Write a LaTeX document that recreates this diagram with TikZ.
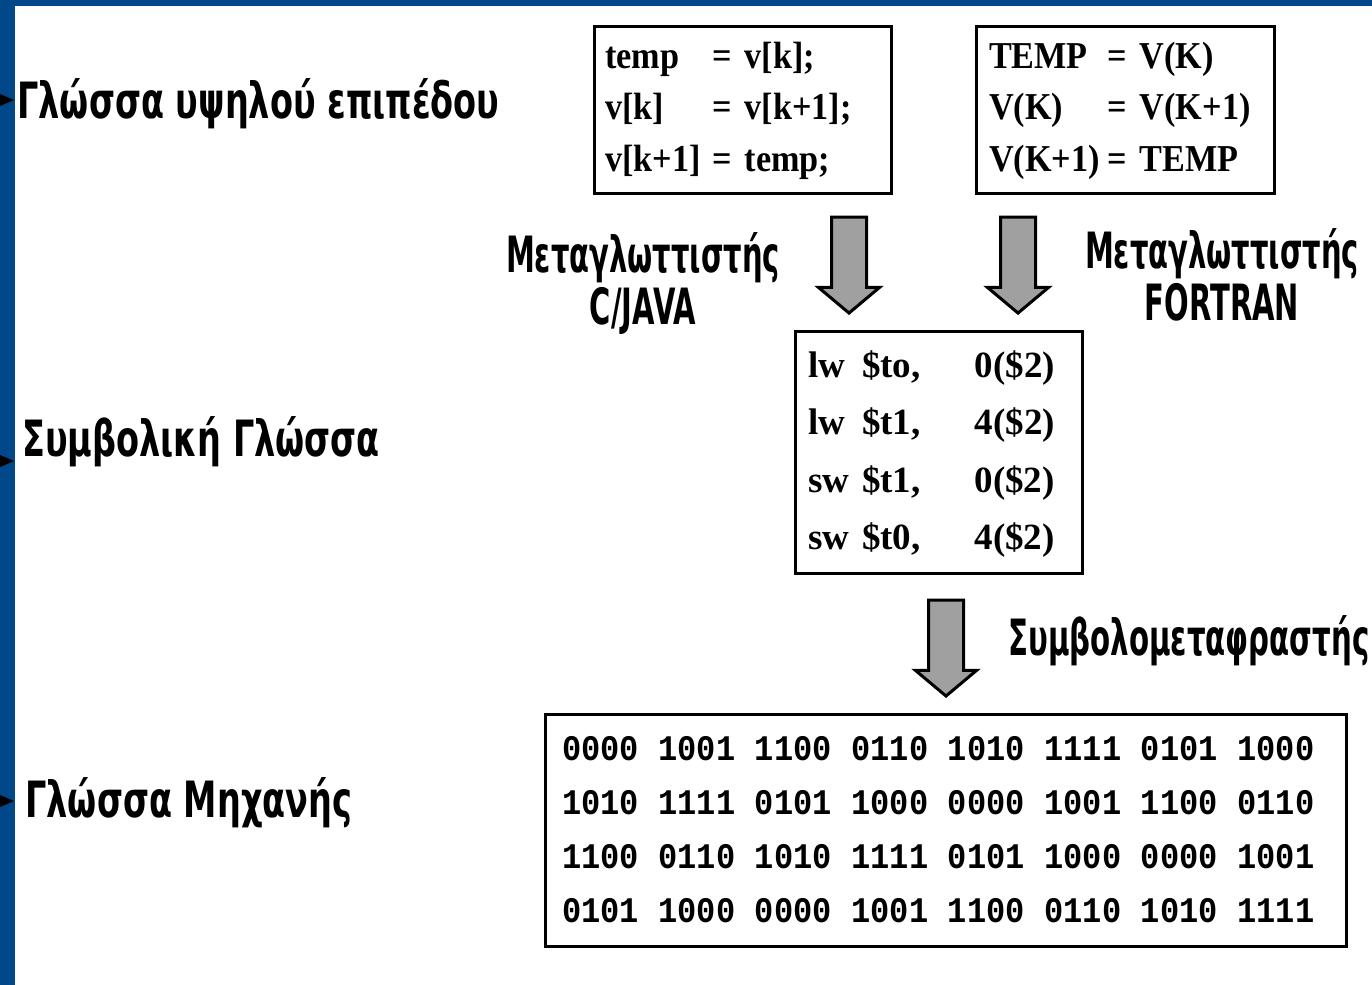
\documentclass[tikz,border=0pt]{standalone}
\usepackage{fontspec}
\setmainfont{Liberation Serif}
\newfontfamily\levelfont[FakeStretch=0.67]{DejaVu Sans}
\newfontfamily\compfont[FakeStretch=0.58]{DejaVu Sans}
\newfontfamily\asmbfont[FakeStretch=0.585]{DejaVu Sans}
\newfontfamily\srcfont[FakeStretch=0.9]{Liberation Serif}
\newfontfamily\codefont{Liberation Serif}
\newfontfamily\binfont[FakeStretch=0.89]{Liberation Mono}
\usetikzlibrary{shapes.arrows}
\definecolor{frameblue}{RGB}{0,72,138}
\definecolor{arrowgray}{RGB}{160,160,160}
\tikzset{
  codebox/.style={rectangle,draw=black,line width=1.5pt,fill=white,align=left,inner ysep=0pt},
  levellabel/.style={anchor=base west,inner sep=0pt,font=\levelfont\bfseries\fontsize{25}{30}\selectfont},
  complabel/.style={align=center,inner sep=0pt,font=\compfont\bfseries\fontsize{25}{26}\selectfont},
  downarrow/.style={single arrow,draw=black,line width=1.5pt,fill=arrowgray,rotate=-90,anchor=tip,
    inner xsep=0pt,inner ysep=8pt,minimum height=48pt,single arrow head extend=6.5pt,single arrow tip angle=100}
}

\begin{document}
\begin{tikzpicture}[x=0.5pt,y=0.5pt]
  \useasboundingbox (0,0) rectangle (1372,-985);
  \fill[white] (0,0) rectangle (1372,-985);
  \fill[frameblue] (0,0) rectangle (15,-985);
  \fill[frameblue] (0,0) rectangle (1372,-6);
  % level bullets
  \fill[black] (0,-94) -- (14,-100) -- (0,-106) -- cycle;
  \fill[black] (0,-455) -- (14,-461) -- (0,-467) -- cycle;
  \fill[black] (0,-795) -- (14,-801) -- (0,-807) -- cycle;

  \node[levellabel] (high) at (17,-118) {Γλώσσα υψηλού επιπέδου};
  \node[levellabel] (sym) at (22,-456) {Συμβολική Γλώσσα};
  \node[levellabel] (mach) at (25,-817) {Γλώσσα Μηχανής};

  % source programs
  \node[codebox,text width=137.5pt,inner xsep=5.5pt,minimum height=83.5pt,font=\srcfont\bfseries\fontsize{19}{25.75}\selectfont] (cjava) at (742.5,-109.5)
    {\begin{tabular}{@{}l@{\hspace{6pt}}l@{}}
      temp & = v[k];\\
      v[k] & = v[k+1];\\
      v[k+1] & = temp;
    \end{tabular}};
  \node[codebox,text width=136pt,inner xsep=6.5pt,minimum height=83.5pt,font=\srcfont\bfseries\fontsize{19}{25.75}\selectfont] (fortran) at (1125,-109.5)
    {\begin{tabular}{@{}l@{\hspace{4pt}}l@{}}
      TEMP & = V(K)\\
      V(K) & = V(K+1)\\
      V(K+1) & = TEMP
    \end{tabular}};

  % compilers
  \node[downarrow] (ca) at (849,-315) {};
  \node[downarrow] (fa) at (1018,-315) {};
  \node[complabel] (cc) at (643,-284) {Μεταγλωττιστής\\C/JAVA};
  \node[complabel] (fc) at (1222,-275) {Μεταγλωττιστής\\FORTRAN};

  % assembly
  \node[codebox,text width=130.5pt,inner xsep=6.5pt,minimum height=121pt,font=\codefont\bfseries\fontsize{18.5}{28.75}\selectfont] (asm) at (938.5,-452)
    {\begin{tabular}{@{}l@{\hspace{6.5pt}}l@{\hspace{27pt}}l@{}}
      lw & \$to, & 0(\$2)\\
      lw & \$t1, & 4(\$2)\\
      sw & \$t1, & 0(\$2)\\
      sw & \$t0, & 4(\$2)
    \end{tabular}};

  \node[downarrow] (aa) at (946,-698) {};
  \node[anchor=base west,inner sep=0pt,font=\asmbfont\bfseries\fontsize{25}{30}\selectfont] (asmb) at (1008,-655) {Συμβολομεταφραστής};

  % machine code
  \node[codebox,text width=383.5pt,inner xsep=8.5pt,minimum height=116pt,font=\binfont\bfseries\fontsize{18}{27}\selectfont] (bin) at (945.5,-830)
    {\spaceskip=9.8pt\relax
     0000 1001 1100 0110 1010 1111 0101 1000\\
     1010 1111 0101 1000 0000 1001 1100 0110\\
     1100 0110 1010 1111 0101 1000 0000 1001\\
     0101 1000 0000 1001 1100 0110 1010 1111};
\end{tikzpicture}
\end{document}
